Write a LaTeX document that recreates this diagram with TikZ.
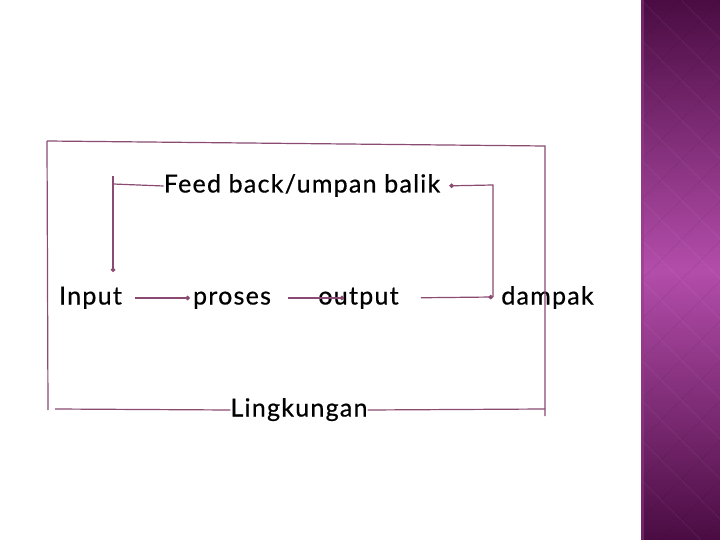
\documentclass[tikz,border=0pt]{standalone}
\usepackage{fontspec}
\setmainfont{Lato}[LetterSpace=5,FakeBold=0.6]
\usetikzlibrary{arrows.meta}
\definecolor{ln}{HTML}{8A4A72}
\definecolor{bandtop}{HTML}{4A0C42}
\definecolor{bandmid}{HTML}{B34DAA}
\tikzset{
  lbl/.style={font=\fontsize{25}{28}\selectfont, inner sep=0pt, text=black, text height=18pt, text depth=5pt},
  ln/.style={draw=ln, line width=1.2pt},
  arr/.style={ln, -{Circle[length=4.5pt]}},
}
\begin{document}
\begin{tikzpicture}[x=1pt,y=-1pt]
\useasboundingbox (0,0) rectangle (720,540);
\fill[white] (0,0) rectangle (720,540);
% side band
\shade[top color=bandtop, bottom color=bandtop, middle color=bandmid] (641,0) rectangle (720,540);
\begin{scope}
\clip (641,0) rectangle (720,540);
\foreach \k in {-12,...,20}{
  \draw[white, opacity=0.06, line width=0.8pt] (641+\k*40,0) -- ++(540,540);
  \draw[black, opacity=0.05, line width=0.8pt] (641+\k*40,0) -- ++(-540,540);
}
\end{scope}
\fill[bandmid!70!bandtop, opacity=0.5] (641,0) rectangle (644,540);

% text nodes
\node[lbl] (fb) at (302,186) {Feed back/umpan balik};
\node[lbl] (in) at (90.5,298) {Input};
\node[lbl] (pr) at (232,298) {proses};
\node[lbl] (ou) at (358.5,298) {output};
\node[lbl] (da) at (547.5,298) {dampak};
\node[lbl] (li) at (299,410) {Lingkungan};

\coordinate (tl) at (47,141);
\coordinate (tr) at (545,146);
\coordinate (bl) at (48,410);
\coordinate (br) at (545,416);
\coordinate (fbl) at (113,184);
\coordinate (fbr) at (493,185);
\coordinate (dr) at (493,297);

% outer frame
\draw[ln] (tl) -- (tr) -- (br);
\draw[ln] (tl) -- (bl);
\draw[ln] (55,409) -- (li.west);
\draw[ln] (li.east) -- (545,409);

% main flow
\draw[arr, shorten <=13pt, shorten >=3pt] (in.east) -- (pr.west);
\draw[arr, shorten <=17pt, shorten >=-26pt] (pr.east) -- (ou.west);
\draw[arr, shorten <=22pt] (ou.east) -- (dr);

% feedback loop
\draw[arr, shorten >=9pt] (dr) -- (fbr) -- (fb.east);
\draw[ln] (fb.west) -- (fbl);
\draw[arr] ([yshift=8pt]fbl) -- (113,272);
\end{tikzpicture}
\end{document}
